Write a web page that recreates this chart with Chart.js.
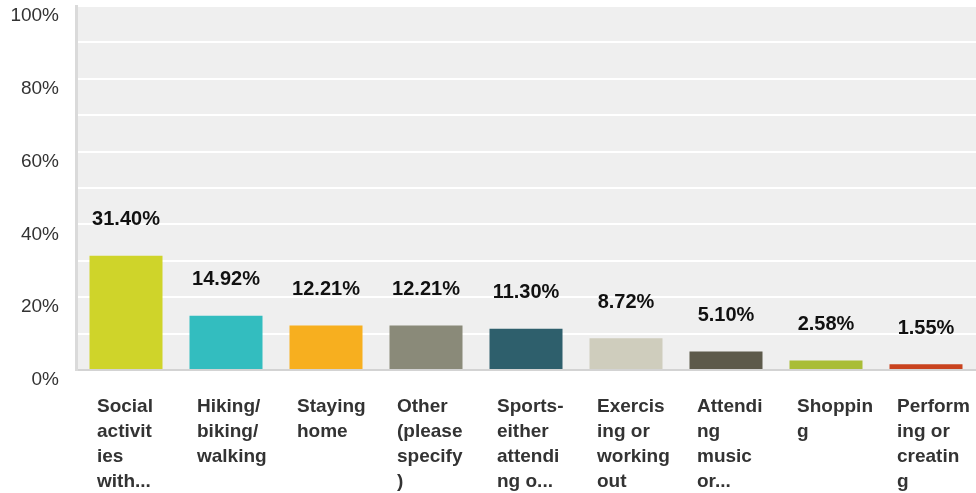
<!DOCTYPE html>
<html>
<head>
<meta charset="utf-8">
<script src="https://cdn.jsdelivr.net/npm/chart.js@4.4.1/dist/chart.umd.min.js"></script>
<style>
  html, body { margin: 0; padding: 0; background: #fff; }
  #wrap { width: 976px; height: 493px; }
</style>
</head>
<body>
<div id="wrap"><canvas id="grafico"></canvas></div>
<script>
// datos
const categorias = [
  ["Social", "activit", "ies", "with..."],
  ["Hiking/", "biking/", "walking"],
  ["Staying", "home"],
  ["Other", "(please", "specify", ")"],
  ["Sports-", "either", "attendi", "ng o..."],
  ["Exercis", "ing or", "working", "out"],
  ["Attendi", "ng", "music", "or..."],
  ["Shoppin", "g"],
  ["Perform", "ing or", "creatin", "g"]
];
const porcentajes = [31.40, 14.92, 12.21, 12.21, 11.30, 8.72, 5.10, 2.58, 1.55];
const colores = ["#cfd42a", "#33bdbf", "#f7af1f", "#8a8a79", "#2e5f6c", "#cfcdbd", "#5d5a4b", "#a9bd37", "#c9431e"];

const FUENTE = "'Liberation Sans', Arial, Helvetica, sans-serif";

// fondo gris del area del grafico
const fondoArea = {
  id: "fondoArea",
  beforeDraw(chart) {
    const { ctx, chartArea } = chart;
    ctx.save();
    ctx.fillStyle = "#efefef";
    ctx.fillRect(chartArea.left, chartArea.top, chartArea.right - chartArea.left, chartArea.bottom - chartArea.top);
    ctx.restore();
  }
};

// etiquetas de valor encima de las barras
const etiquetasValor = {
  id: "etiquetasValor",
  afterDatasetsDraw(chart) {
    const { ctx } = chart;
    const meta = chart.getDatasetMeta(0);
    ctx.save();
    ctx.font = "bold 20px " + FUENTE;
    ctx.fillStyle = "#111";
    ctx.textAlign = "center";
    ctx.textBaseline = "middle";
    meta.data.forEach((barra, i) => {
      ctx.fillText(porcentajes[i].toFixed(2) + "%", barra.x, barra.y - 36);
    });
    ctx.restore();
  }
};

new Chart(document.getElementById("grafico"), {
  type: "bar",
  data: {
    labels: categorias,
    datasets: [{
      data: porcentajes,
      backgroundColor: colores,
      borderWidth: 0,
      barPercentage: 0.73,
      categoryPercentage: 1
    }]
  },
  options: {
    responsive: true,
    maintainAspectRatio: false,
    animation: false,
    layout: { padding: { top: 6, right: 0, left: 0, bottom: 0 } },
    plugins: {
      legend: { display: false },
      tooltip: { enabled: false }
    },
    scales: {
      x: {
        afterFit(scale) {
          scale.height = 123;
          scale.paddingLeft = 0;
          scale.paddingRight = 0;
        },
        grid: { display: false, drawTicks: false },
        border: { color: "#d3d3d3", width: 2 },
        ticks: {
          align: "start",
          labelOffset: -29,
          padding: 24,
          autoSkip: false,
          maxRotation: 0,
          color: "#333",
          font: { family: FUENTE, size: 19, weight: "bold", lineHeight: 1.32 }
        }
      },
      y: {
        min: 0,
        max: 100,
        afterFit(scale) {
          scale.width = 76;
          scale.paddingTop = 0;
          scale.paddingBottom = 0;
        },
        grid: { color: "#ffffff", lineWidth: 2, drawTicks: false },
        border: { color: "#dadada", width: 3 },
        ticks: {
          stepSize: 10,
          padding: 17,
          labelOffset: 10,
          color: "#333",
          font: { family: FUENTE, size: 19 },
          callback: (v) => (v % 20 === 0 ? v + "%" : "")
        }
      }
    }
  },
  plugins: [fondoArea, etiquetasValor]
});
</script>
</body>
</html>
